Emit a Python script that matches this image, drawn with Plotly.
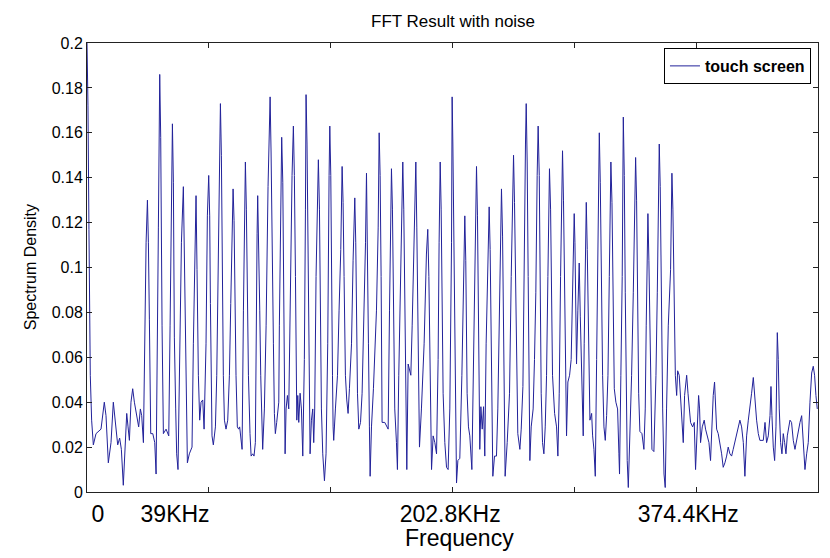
import plotly.graph_objects as go

# spectrum: frequency bin index (0..600) and spectrum density
freq_bin = [
    0, 0.8, 1.6, 2.7, 3.8, 5.2, 7.4, 11.5, 14.2, 15.6, 17.5, 19.7, 21.6, 23.8, 25.2, 26.8, 28.2, 29.8,
    31.5, 32.6, 33.7, 34.8, 36.1, 37.5, 38.9, 40.8, 42.4, 43.8, 44.9, 46.3,
    47.4, 48.5, 49.6, 50.4, 51.2, 52.3, 54.0, 55.6, 56.7,
    57.5, 58.6, 59.7, 60.5, 61.6, 62.7, 64.9, 67.1,
    68.2, 69.3, 70.1, 70.9, 71.7, 72.8, 73.6, 74.7,
    76.4, 77.5, 79.1, 80.2, 81.3, 82.4, 84.0, 86.2,
    87.3, 88.4, 89.5, 90.3, 91.4, 92.5, 93.6, 95.0, 96.1, 97.7, 98.8,
    99.9, 100.7, 101.3, 101.8, 102.6, 103.7,
    105.4, 106.5, 107.6, 108.6, 109.5, 110.3, 110.8, 111.9, 112.8, 114.1,
    115.5, 116.9, 118.0, 119.1, 119.9, 120.7, 121.5, 122.3, 123.4, 124.5, 125.3, 126.7, 127.3,
    128.4, 129.2, 130.0, 130.8, 131.6, 132.5, 133.8, 134.7, 136.0, 137.1, 138.2,
    138.8, 139.6, 140.1, 140.9, 141.8, 142.6, 143.7, 144.2,
    145.6, 147.0, 148.6, 149.4, 150.3, 151.1, 151.9, 153.0, 153.8, 154.6, 155.7, 157.4,
    157.9, 159.3, 159.8, 160.7, 161.5, 162.3, 162.6,
    163.4, 164.5, 165.6, 166.7, 168.3, 169.4, 170.2, 171.1, 171.6, 172.2, 173.0, 173.8, 174.9, 176.0, 177.1,
    178.4, 179.3, 179.8, 180.6, 181.5, 182.3, 183.1, 184.2, 185.3, 186.1,
    186.9, 188.0, 189.1, 189.9, 190.8, 191.6, 192.4, 193.5, 194.9, 196.2, 197.6,
    198.7, 199.3, 200.1, 200.6, 201.5, 202.0, 202.5, 203.9, 205.6, 206.9, 208.3, 209.4, 210.2, 211.0,
    212.1, 213.2, 214.3, 215.4, 217.1, 218.4, 219.8, 220.6, 221.4, 222.0, 223.1, 224.5, 225.8,
    227.5, 228.6, 229.4, 230.2, 231.0, 231.8, 232.4, 233.5, 235.1, 237.6, 239.0, 239.8, 240.6,
    241.4, 242.2, 244.4, 246.1, 247.2, 248.3, 249.4, 249.9, 250.7, 251.6, 252.6, 254.0, 254.8,
    255.9, 257.6, 259.2, 260.0, 260.9, 261.7, 262.5, 263.6, 265.0, 265.8, 266.9, 268.5, 269.9,
    270.7, 271.5, 272.4, 272.9, 274.5, 276.7, 278.6, 279.7, 280.6, 281.4, 282.2, 282.8, 284.1,
    285.5, 286.9, 288.2, 289.0, 289.9, 290.7, 291.5, 292.3, 293.7, 295.1, 296.4, 297.8, 299.2,
    299.7, 300.3, 301.1, 301.6, 302.2, 302.7, 303.3, 304.4, 306.0, 307.7, 308.8, 309.6, 310.1,
    310.9, 311.5, 312.0, 313.1, 314.2, 315.9, 317.0, 318.1, 318.9, 319.7, 320.5, 321.3, 321.9,
    322.4, 323.3, 324.4, 325.5, 326.5, 327.6, 329.0, 330.1, 330.9, 331.7, 332.6, 333.1, 334.5,
    336.1, 337.2, 338.3, 339.4, 340.2, 341.1, 341.9, 342.4, 343.2, 344.9, 346.8, 348.2, 349.3,
    350.1, 350.9, 351.7, 352.5, 353.6, 355.3, 356.4, 357.8, 358.8, 359.9, 360.5, 361.3, 362.1,
    363.0, 363.5, 364.6, 366.2, 367.3, 368.4, 369.5, 370.3, 371.2, 372.0, 372.8, 373.9, 375.0,
    376.1, 377.2, 378.3, 379.6, 380.5, 381.0, 382.1, 383.8, 385.4, 386.5, 387.6, 388.7, 389.5,
    390.3, 391.1, 392.0, 392.8, 393.6, 394.7, 396.1, 397.4, 398.5,
    399.9, 400.5, 401.3, 401.8, 402.9, 404.0, 404.9, 405.7, 406.5, 407.3, 408.1, 409.0, 409.8,
    410.6, 411.4, 412.2, 412.8, 414.2, 415.0, 416.1, 417.2, 418.3, 419.1, 419.9, 420.5, 421.3,
    422.1, 423.2, 424.3, 425.4, 426.5, 427.6, 428.7, 429.5, 430.0, 430.9, 431.7, 432.8, 434.1,
    435.5, 436.6, 437.1, 438.2, 439.3, 440.2, 441.0, 441.8, 442.6, 443.4, 444.3, 445.6, 447.0,
    448.4, 449.5, 450.3, 451.1, 451.9, 452.8, 453.8, 455.5, 457.1, 458.2, 459.0, 459.9, 460.4,
    461.2, 462.1, 462.9, 463.7, 465.3, 467.0, 468.1, 468.9, 469.7, 470.5, 471.4, 472.5, 473.6,
    474.6, 475.7, 477.1, 479.0, 480.1, 480.9, 481.8, 482.9, 484.0, 484.8, 486.1, 487.2, 488.3,
    489.4, 490.5, 492.2, 493.3, 494.4, 495.4, 497.1,
    498.4, 499.5, 500.9, 502.0, 502.8, 503.6, 505.0, 506.6, 507.7, 509.1, 510.5, 511.8, 512.9,
    514.0, 515.1, 515.9, 516.8, 518.1, 519.5, 520.9, 522.2, 523.6, 525.0, 526.3, 527.7, 529.1,
    530.4, 531.8, 533.2, 534.6, 535.9, 537.3, 538.7, 540.0, 541.4, 542.8, 544.1, 545.5, 546.9,
    548.2, 549.6, 551.0, 552.3, 555.1, 556.5, 557.8, 559.2, 560.6, 561.4, 562.2, 563.3, 564.4,
    565.5, 566.6, 567.4, 568.2, 569.3, 570.4, 571.5, 572.6, 573.7, 574.8, 575.9, 577.0, 578.3,
    579.7, 581.1, 582.5, 583.8, 585.2, 586.6, 587.9, 589.3, 590.7, 592.0, 593.4, 594.8, 596.1,
    597.2, 598.3, 599.4,
]
density = [
    0.200, 0.172, 0.117, 0.052, 0.032, 0.021, 0.026, 0.028, 0.040, 0.034, 0.013, 0.022, 0.040, 0.029, 0.021, 0.024, 0.019, 0.003,
    0.020, 0.035, 0.029, 0.023, 0.040, 0.046, 0.040, 0.034, 0.029, 0.037, 0.034, 0.022,
    0.074, 0.111, 0.130, 0.111, 0.077, 0.026, 0.026, 0.022, 0.008,
    0.074, 0.118, 0.186, 0.158, 0.074, 0.026, 0.028, 0.025,
    0.074, 0.141, 0.164, 0.138, 0.069, 0.037, 0.017, 0.010,
    0.066, 0.111, 0.136, 0.096, 0.052, 0.013, 0.017, 0.020,
    0.066, 0.111, 0.132, 0.099, 0.052, 0.032, 0.040, 0.041, 0.028, 0.066, 0.123,
    0.141, 0.123, 0.084, 0.046, 0.025, 0.021,
    0.029, 0.052, 0.103, 0.150, 0.173, 0.150, 0.103, 0.052, 0.032, 0.028,
    0.032, 0.052, 0.084, 0.121, 0.135, 0.121, 0.081, 0.052, 0.029, 0.028, 0.029, 0.022, 0.019,
    0.081, 0.126, 0.147, 0.126, 0.083, 0.052, 0.026, 0.016, 0.017, 0.016, 0.022,
    0.081, 0.115, 0.132, 0.114, 0.081, 0.052, 0.026, 0.019,
    0.037, 0.074, 0.136, 0.161, 0.176, 0.151, 0.103, 0.066, 0.035, 0.026, 0.031, 0.040,
    0.074, 0.141, 0.158, 0.138, 0.084, 0.052, 0.017,
    0.037, 0.043, 0.037, 0.081, 0.141, 0.163, 0.141, 0.096, 0.052, 0.032, 0.043, 0.031, 0.044, 0.037, 0.016,
    0.059, 0.126, 0.177, 0.155, 0.096, 0.037, 0.017, 0.032, 0.037, 0.022,
    0.037, 0.096, 0.127, 0.148, 0.126, 0.081, 0.037, 0.017, 0.005, 0.017, 0.066,
    0.141, 0.163, 0.141, 0.096, 0.052, 0.029, 0.023, 0.037, 0.052, 0.081, 0.108, 0.145, 0.129, 0.096,
    0.052, 0.041, 0.035, 0.046, 0.066, 0.103, 0.131, 0.111, 0.066, 0.044, 0.028, 0.031, 0.044,
    0.081, 0.111, 0.142, 0.114, 0.066, 0.029, 0.007, 0.029, 0.046, 0.081, 0.118, 0.160, 0.141,
    0.096, 0.031, 0.031, 0.029, 0.028, 0.081, 0.126, 0.144, 0.126, 0.081, 0.037, 0.022, 0.010,
    0.052, 0.096, 0.147, 0.126, 0.089, 0.052, 0.010, 0.057, 0.053, 0.052, 0.074, 0.111, 0.147,
    0.118, 0.081, 0.037, 0.020, 0.037, 0.066, 0.106, 0.117, 0.096, 0.059, 0.029, 0.010, 0.025,
    0.022, 0.017, 0.059, 0.111, 0.147, 0.126, 0.081, 0.044, 0.022, 0.011, 0.010, 0.037, 0.111,
    0.176, 0.155, 0.114, 0.089, 0.032, 0.014, 0.004, 0.014, 0.015, 0.052, 0.081, 0.105, 0.123,
    0.103, 0.074, 0.044, 0.029, 0.025, 0.010, 0.044, 0.081, 0.121, 0.145, 0.123, 0.081, 0.040,
    0.019, 0.038, 0.028, 0.038, 0.016, 0.066, 0.111, 0.127, 0.108, 0.066, 0.022, 0.007, 0.016,
    0.016, 0.037, 0.074, 0.114, 0.135, 0.114, 0.074, 0.037, 0.007, 0.022, 0.044, 0.096, 0.129,
    0.150, 0.129, 0.096, 0.052, 0.026, 0.019, 0.028, 0.047, 0.111, 0.155, 0.173, 0.147, 0.096,
    0.052, 0.014, 0.029, 0.037, 0.059, 0.089, 0.141, 0.163, 0.141, 0.096, 0.044, 0.022, 0.017,
    0.029, 0.052, 0.096, 0.144, 0.126, 0.089, 0.052, 0.035, 0.029, 0.016, 0.044, 0.096, 0.135,
    0.152, 0.130, 0.089, 0.046, 0.025, 0.049, 0.052, 0.059, 0.096,
    0.124, 0.111, 0.069, 0.057, 0.081, 0.102, 0.078, 0.059, 0.041, 0.025, 0.066, 0.111, 0.129,
    0.108, 0.074, 0.043, 0.032, 0.035, 0.025, 0.019, 0.007, 0.059, 0.103, 0.141, 0.160, 0.138,
    0.096, 0.052, 0.029, 0.023, 0.034, 0.052, 0.096, 0.130, 0.147, 0.129, 0.089, 0.046, 0.040,
    0.037, 0.017, 0.008, 0.052, 0.096, 0.167, 0.141, 0.089, 0.052, 0.014, 0.002, 0.022, 0.052,
    0.089, 0.129, 0.149, 0.130, 0.089, 0.044, 0.027, 0.026, 0.019, 0.037, 0.074, 0.105, 0.124,
    0.103, 0.066, 0.034, 0.019, 0.018, 0.052, 0.089, 0.129, 0.155, 0.136, 0.089, 0.037, 0.008,
    0.002, 0.037, 0.074, 0.099, 0.142, 0.126, 0.087, 0.052, 0.043, 0.054, 0.052, 0.043, 0.029,
    0.022, 0.043, 0.052, 0.044, 0.038, 0.031, 0.029,
    0.031, 0.010, 0.029, 0.043, 0.037, 0.022, 0.029, 0.032, 0.028, 0.025, 0.022, 0.014, 0.028,
    0.043, 0.049, 0.040, 0.028, 0.026, 0.022, 0.017, 0.011, 0.013, 0.016, 0.020, 0.017, 0.016,
    0.019, 0.022, 0.026, 0.029, 0.032, 0.029, 0.022, 0.007, 0.025, 0.032, 0.037, 0.044, 0.051,
    0.040, 0.032, 0.026, 0.023, 0.023, 0.031, 0.022, 0.025, 0.034, 0.047, 0.034, 0.020, 0.014,
    0.029, 0.071, 0.059, 0.037, 0.022, 0.017, 0.026, 0.022, 0.017, 0.025, 0.029, 0.032, 0.031,
    0.023, 0.019, 0.023, 0.028, 0.031, 0.034, 0.023, 0.010, 0.017, 0.022, 0.040, 0.053, 0.056,
    0.052, 0.043, 0.037,
]

# hand placed frequency labels under the axis
label_pos = [9, 72.3, 298.1, 493.5]
label_text = ["0", "39KHz", "202.8KHz", "374.4KHz"]

FONT = "Arial, 'Liberation Sans', sans-serif"

fig = go.Figure()
fig.add_trace(go.Scatter(
    x=freq_bin, y=density, mode="lines", name="touch screen",
    line=dict(color="#22229a", width=1),
))
# invisible trace only to carry the label axis
fig.add_trace(go.Scatter(x=[0], y=[0], xaxis="x2", mode="lines",
                         line=dict(width=0), showlegend=False, hoverinfo="skip"))

axis_common = dict(showline=True, linecolor="#222", linewidth=1, mirror="ticks",
                   ticks="inside", ticklen=5, tickcolor="#222", showgrid=False, zeroline=False)

fig.update_layout(
    width=830, height=558,
    margin=dict(l=87, r=12, t=43, b=66),
    paper_bgcolor="white", plot_bgcolor="white",
    font=dict(family=FONT, color="black"),
    xaxis=dict(range=[0, 600], tickvals=[100, 200, 300, 400, 500], showticklabels=False, **axis_common),
    xaxis2=dict(range=[0, 600], overlaying="x", side="bottom", tickvals=label_pos, ticktext=label_text,
                ticks="", showgrid=False, zeroline=False, showline=False, ticklabelstandoff=6,
                tickfont=dict(size=23, family=FONT, color="black")),
    yaxis=dict(range=[0, 0.2], tickvals=[0, 0.02, 0.04, 0.06, 0.08, 0.1, 0.12, 0.14, 0.16, 0.18, 0.2],
               ticktext=["0", "0.02", "0.04", "0.06", "0.08", "0.1", "0.12", "0.14", "0.16", "0.18", "0.2"],
               tickfont=dict(size=16), **axis_common),
    showlegend=True,
    legend=dict(x=0.9904, y=0.9889, xanchor="right", yanchor="top", bgcolor="white",
                bordercolor="black", borderwidth=1, tracegroupgap=0,
                font=dict(size=16, weight="bold", color="black")),
    annotations=[
        dict(text="FFT Result with noise", x=0.5, y=1.0468, xref="paper", yref="paper",
             showarrow=False, font=dict(size=17), xanchor="center", yanchor="middle"),
        dict(text="Frequency", x=0.51, y=-0.1024, xref="paper", yref="paper",
             showarrow=False, font=dict(size=23), xanchor="center", yanchor="middle"),
        dict(text="Spectrum Density", x=-0.077, y=0.5, xref="paper", yref="paper", textangle=-90,
             showarrow=False, font=dict(size=16), xanchor="center", yanchor="middle"),
    ],
)

fig.write_html("out.html", config={"displayModeBar": False},
               post_script="document.body.style.margin='0';")
